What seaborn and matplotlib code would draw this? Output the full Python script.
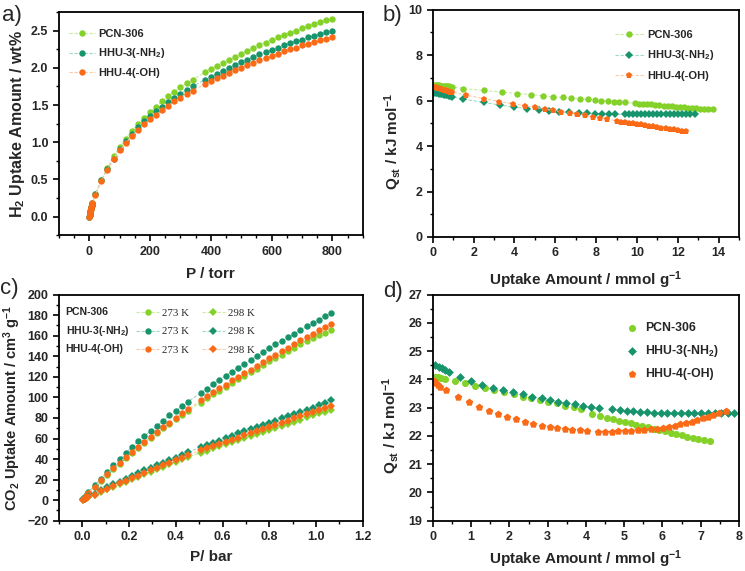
import matplotlib
matplotlib.use("Agg")
import matplotlib.pyplot as plt
import seaborn as sns
from matplotlib.ticker import MultipleLocator

# ---------------- a) H2 isotherms ----------------
h2_p = [0.3, 1, 2, 3, 4, 5, 6, 7, 8, 9, 10,
        20, 40, 60, 80, 100, 120, 140, 160, 180, 200, 220, 240, 260, 280, 300, 320, 340,
        380, 400, 420, 440, 460, 480, 500, 520, 540, 560, 580, 600, 620, 640, 660, 680,
        700, 720, 740, 760, 780, 800]
h2_pcn = [0.0, 0.02, 0.04, 0.06, 0.08, 0.10, 0.12, 0.13, 0.15, 0.16, 0.18,
          0.30, 0.49, 0.66, 0.81, 0.94, 1.05, 1.15, 1.25, 1.33, 1.41, 1.48, 1.55, 1.62, 1.68, 1.74, 1.79, 1.84,
          1.94, 1.98, 2.03, 2.07, 2.11, 2.15, 2.19, 2.23, 2.27, 2.31, 2.34, 2.38, 2.41, 2.44, 2.47, 2.50,
          2.53, 2.56, 2.59, 2.61, 2.64, 2.66]
h2_nh2 = [0.0, 0.02, 0.04, 0.06, 0.08, 0.10, 0.12, 0.13, 0.15, 0.16, 0.18,
          0.30, 0.49, 0.64, 0.78, 0.91, 1.02, 1.11, 1.20, 1.28, 1.35, 1.42, 1.48, 1.54, 1.60, 1.65, 1.70, 1.75,
          1.84, 1.88, 1.92, 1.96, 2.00, 2.04, 2.08, 2.11, 2.15, 2.18, 2.21, 2.24, 2.27, 2.30, 2.33, 2.36,
          2.38, 2.41, 2.43, 2.46, 2.48, 2.50]
h2_oh = [0.0, 0.02, 0.04, 0.06, 0.08, 0.10, 0.12, 0.13, 0.15, 0.16, 0.18,
         0.29, 0.48, 0.63, 0.77, 0.89, 0.99, 1.08, 1.16, 1.24, 1.31, 1.37, 1.43, 1.49, 1.55, 1.60, 1.65, 1.69,
         1.78, 1.82, 1.86, 1.89, 1.93, 1.97, 2.00, 2.04, 2.07, 2.10, 2.13, 2.16, 2.19, 2.22, 2.25, 2.27,
         2.30, 2.32, 2.35, 2.37, 2.39, 2.41]

# ---------------- b) H2 Qst ----------------
qh_pcn_x = [0.08, 0.15, 0.22, 0.30, 0.38, 0.46, 0.54, 0.62, 0.70, 0.78, 0.86, 0.93,
            1.5, 2.5, 3.4, 4.12, 4.8, 5.38, 5.88, 6.36, 6.78, 7.19, 7.58, 7.92, 8.25, 8.58, 8.87, 9.13, 9.43,
            9.9, 10.1, 10.3, 10.5, 10.7, 10.9, 11.1, 11.3, 11.5, 11.7, 11.9, 12.1, 12.3, 12.5, 12.7,
            12.9, 13.1, 13.3, 13.5, 13.7]
qh_pcn_y = [6.68, 6.68, 6.67, 6.67, 6.66, 6.66, 6.65, 6.65, 6.64, 6.63, 6.62, 6.62,
            6.53, 6.45, 6.37, 6.31, 6.26, 6.21, 6.17, 6.14, 6.11, 6.08, 6.05, 6.03, 6.00, 5.98, 5.96, 5.94, 5.92,
            5.89, 5.87, 5.86, 5.84, 5.83, 5.81, 5.80, 5.78, 5.77, 5.75, 5.74, 5.72, 5.71, 5.69, 5.68,
            5.66, 5.65, 5.63, 5.62, 5.61]
qh_nh2_x = [0.08, 0.15, 0.22, 0.30, 0.38, 0.46, 0.54, 0.62, 0.70, 0.78, 0.86, 0.93,
            1.5, 2.5, 3.3, 3.99, 4.61, 5.18, 5.67, 6.16, 6.65, 7.14, 7.55, 7.92, 8.28, 8.61, 8.94,
            9.4, 9.6, 9.8, 10.0, 10.2, 10.4, 10.6, 10.8, 11.0, 11.2, 11.4, 11.6, 11.8, 12.0, 12.2,
            12.4, 12.6, 12.85]
qh_nh2_y = [6.35, 6.34, 6.32, 6.31, 6.29, 6.28, 6.26, 6.24, 6.23, 6.21, 6.19, 6.18,
            6.07, 5.92, 5.80, 5.72, 5.65, 5.59, 5.55, 5.51, 5.48, 5.46, 5.45, 5.43, 5.42, 5.41, 5.40,
            5.40, 5.40, 5.40, 5.40, 5.40, 5.40, 5.40, 5.40, 5.40, 5.40, 5.40, 5.40, 5.41, 5.41, 5.41,
            5.41, 5.41, 5.42]
qh_oh_x = [0.08, 0.15, 0.22, 0.30, 0.38, 0.46, 0.54, 0.62, 0.70, 0.78, 0.86, 0.93,
           1.6, 2.53, 3.25, 3.95, 4.53, 5.02, 5.47, 5.88, 6.29, 6.7, 7.08, 7.47, 7.83, 8.17, 8.53,
           9.0, 9.2, 9.4, 9.6, 9.8, 10.0, 10.2, 10.4, 10.6, 10.8, 11.0, 11.2, 11.4, 11.6, 11.8,
           12.0, 12.2, 12.4]
qh_oh_y = [6.60, 6.58, 6.56, 6.54, 6.52, 6.50, 6.48, 6.46, 6.44, 6.42, 6.40, 6.38,
           6.25, 6.08, 5.96, 5.86, 5.77, 5.70, 5.63, 5.57, 5.51, 5.46, 5.40, 5.35, 5.29, 5.24, 5.19,
           5.11, 5.08, 5.05, 5.03, 5.00, 4.97, 4.95, 4.92, 4.89, 4.87, 4.84, 4.81, 4.79, 4.76, 4.73,
           4.71, 4.68, 4.66]

# ---------------- c) CO2 isotherms ----------------
co2_p = [0.005, 0.01, 0.015, 0.02, 0.025,
         0.053, 0.08, 0.106, 0.133, 0.16, 0.186, 0.213, 0.24, 0.266, 0.293, 0.32, 0.346, 0.373,
         0.40, 0.426, 0.453,
         0.506, 0.533, 0.56, 0.586, 0.613, 0.64, 0.666, 0.693, 0.72, 0.746, 0.773, 0.80, 0.826,
         0.853, 0.88, 0.906, 0.933, 0.96, 0.986, 1.013, 1.04, 1.066]
co2_pcn_273 = [1, 2.5, 4, 5.5, 7,
               12.5, 18.5, 24.5, 30, 35.5, 41, 46, 51, 56, 60.5, 65.5, 70, 74.5, 79, 83, 87,
               95, 99, 103, 106.5, 110.5, 114, 117.5, 121, 124.5, 128, 131.5, 135, 138, 141.5,
               145, 148, 151.5, 155, 158, 160.5, 163, 165.5]
co2_nh2_273 = [1.5, 3, 4.5, 6, 7.5,
               14.5, 21, 27.5, 34, 40, 46, 52, 57.5, 62.5, 67.5, 72.5, 77.5, 82.5, 87, 91.5, 96,
               104, 108.5, 113, 117, 121, 125, 129, 132.5, 136.5, 140.5, 144, 148, 151.5, 155,
               158.5, 162, 165.5, 169, 172, 175.5, 179, 182]
co2_oh_273 = [1, 2.5, 4, 5.5, 7,
              13, 19.5, 25.5, 31, 36.5, 42, 47, 52, 57, 61.5, 66.5, 71, 75.5, 80, 84.5, 88.5,
              97, 101, 105, 109, 112.5, 116.5, 120, 123.5, 127, 131, 134.5, 138, 141.5, 145,
              148.5, 152, 155.5, 158.5, 162, 165.5, 168.5, 171.5]
co2_pcn_298 = [0.5, 1.2, 1.8, 2.5, 3.1,
               5, 7.5, 10.5, 13, 15.5, 18, 20.5, 23, 25.5, 27.5, 30, 32.5, 35, 37.5, 40, 42,
               46, 48, 50.5, 52.5, 54.5, 56.5, 58.5, 60.5, 62.5, 64.5, 66.5, 68.5, 70.5, 72.5,
               74.5, 76.5, 78.5, 80.5, 82.5, 84.5, 86, 88]
co2_nh2_298 = [0.8, 1.5, 2.3, 3, 3.8,
               6.5, 9.5, 12.5, 15.5, 18, 21, 23.5, 26.5, 29, 31.5, 34, 36.5, 39, 41.5, 44, 47,
               51.5, 53.5, 56, 58, 60.5, 62.5, 65, 67, 69, 71.5, 73.5, 75.5, 77.5, 79.5,
               82, 84, 86, 88, 90, 92.5, 94.5, 97]
co2_oh_298 = [0.6, 1.3, 2, 2.7, 3.4,
              5.5, 8.5, 11, 14, 16.5, 19, 21.5, 24, 26.5, 29, 31.5, 34, 36.5, 39, 41.5, 44,
              48.5, 50.5, 52.5, 55, 57, 59, 61, 63, 65, 67, 69, 71, 73, 75,
              77, 79.5, 81.5, 83.5, 85.5, 87.5, 89.5, 91.5]

# ---------------- d) CO2 Qst ----------------
qc_pcn_x = [0.06, 0.14, 0.22, 0.32, 0.58, 0.84, 1.1, 1.37, 1.61, 1.87, 2.11, 2.36, 2.57, 2.81,
            3.02, 3.24, 3.46, 3.69, 3.88, 4.16, 4.36, 4.54, 4.70, 4.86, 5.02, 5.17, 5.32, 5.47,
            5.63, 5.78, 5.92, 6.06, 6.21, 6.35, 6.5, 6.65, 6.8, 6.94, 7.08, 7.23]
qc_pcn_y = [24.1, 24.07, 24.04, 24.0, 23.94, 23.88, 23.78, 23.7, 23.62, 23.54, 23.47, 23.39, 23.33,
            23.27, 23.21, 23.15, 23.07, 23.01, 22.94, 22.78, 22.72, 22.65, 22.59, 22.54, 22.49,
            22.45, 22.4, 22.35, 22.31, 22.26, 22.21, 22.16, 22.12, 22.07, 22.02, 21.98, 21.93,
            21.89, 21.85, 21.81]
qc_nh2_x = [0.06, 0.15, 0.24, 0.32, 0.41, 0.70, 1.0, 1.28, 1.57, 1.83, 2.09, 2.36, 2.6, 2.84, 3.05,
            3.27, 3.49, 3.71, 3.92, 4.14, 4.34, 4.69, 4.89, 5.07, 5.24, 5.41, 5.59, 5.78, 5.96,
            6.13, 6.31, 6.48, 6.66, 6.83, 7.01, 7.18, 7.36, 7.53, 7.71, 7.88]
qc_nh2_y = [24.5, 24.45, 24.4, 24.34, 24.28, 24.1, 23.95, 23.82, 23.7, 23.62, 23.54, 23.47, 23.39,
            23.33, 23.27, 23.21, 23.15, 23.12, 23.07, 23.04, 23.0, 22.94, 22.92, 22.9, 22.87,
            22.85, 22.84, 22.82, 22.81, 22.81, 22.8, 22.8, 22.8, 22.8, 22.8, 22.81, 22.81,
            22.82, 22.82, 22.82]
qc_oh_x = [0.02, 0.08, 0.13, 0.19, 0.34, 0.65, 0.94, 1.2, 1.46, 1.7, 1.94, 2.17, 2.4, 2.62, 2.84,
           3.05, 3.25, 3.45, 3.64, 3.84, 4.03, 4.32, 4.49, 4.67, 4.84, 5.02, 5.19, 5.37, 5.52,
           5.7, 5.86, 6.01, 6.17, 6.32, 6.47, 6.62, 6.76, 6.9, 7.05, 7.2, 7.33, 7.47, 7.65]
qc_oh_y = [23.94, 23.87, 23.8, 23.74, 23.62, 23.39, 23.2, 23.04, 22.9, 22.78, 22.68, 22.59, 22.51,
           22.44, 22.36, 22.32, 22.28, 22.25, 22.21, 22.2, 22.19, 22.15, 22.15, 22.15, 22.16,
           22.18, 22.19, 22.2, 22.21, 22.24, 22.26, 22.28, 22.32, 22.36, 22.41, 22.46, 22.51,
           22.56, 22.62, 22.68, 22.75, 22.81, 22.87]

names = ["PCN-306", "HHU-3(-NH$_2$)", "HHU-4(-OH)"]
mark_col = ["#84d12a", "#18946c", "#fb6b17"]
line_col = ["#c9eca2", "#9fd9c6", "#fbcaa6"]

sns.set_style("ticks")
plt.rcParams["font.family"] = ["Liberation Sans", "DejaVu Sans"]
plt.rcParams["font.weight"] = "bold"
plt.rcParams["mathtext.fontset"] = "custom"
plt.rcParams["mathtext.bf"] = "Liberation Sans:bold"
plt.rcParams["mathtext.rm"] = "Liberation Sans:bold"
plt.rcParams["mathtext.default"] = "bf"
plt.rcParams["axes.linewidth"] = 1.3
plt.rcParams["axes.edgecolor"] = "black"


def series(ax, x, y, i, marker, label, ms=4.6):
    sns.lineplot(x=x, y=y, ax=ax, color=line_col[i], linewidth=0.8, linestyle=(0, (3, 1.5)),
                 marker=marker, markersize=ms, markerfacecolor=mark_col[i],
                 markeredgecolor=mark_col[i], markeredgewidth=0,
                 estimator=None, sort=False, label=label)


def style(ax, xmaj, xmin, ymaj, ymin):
    ax.xaxis.set_major_locator(MultipleLocator(xmaj))
    ax.xaxis.set_minor_locator(MultipleLocator(xmin))
    ax.yaxis.set_major_locator(MultipleLocator(ymaj))
    ax.yaxis.set_minor_locator(MultipleLocator(ymin))
    ax.tick_params(which="major", length=4, width=1.2, labelsize=9, color="black")
    ax.tick_params(which="minor", length=2.2, width=1.0, color="black")
    for lab in ax.get_xticklabels() + ax.get_yticklabels():
        lab.set_fontweight("bold")


fig = plt.figure(figsize=(7.45, 5.71), dpi=100)
ax_a = fig.add_axes([0.079, 0.588, 0.408, 0.391])
ax_b = fig.add_axes([0.581, 0.585, 0.411, 0.398])
ax_c = fig.add_axes([0.079, 0.088, 0.408, 0.396])
ax_d = fig.add_axes([0.581, 0.088, 0.411, 0.396])

# a)
for i, ys in enumerate([h2_pcn, h2_nh2, h2_oh]):
    series(ax_a, h2_p, ys, i, "o", names[i])
ax_a.set_xlim(-100, 900)
ax_a.set_ylim(-0.25, 2.75)
style(ax_a, 200, 50, 0.5, 0.25)
ax_a.set_xlabel("P / torr", fontsize=11, fontweight="bold", labelpad=7)
ax_a.set_ylabel("H$_2$ Uptake Amount / wt%", fontsize=11.5, fontweight="bold", labelpad=3)
ax_a.legend(loc="upper left", bbox_to_anchor=(0.02, 0.945), frameon=False,
            prop={"size": 8, "weight": "bold"}, handlelength=2.3, handletextpad=0.3,
            labelspacing=0.7, borderaxespad=0)

# b)
for i, (xs, ys, mk) in enumerate([(qh_pcn_x, qh_pcn_y, "o"), (qh_nh2_x, qh_nh2_y, "D"),
                                  (qh_oh_x, qh_oh_y, "p")]):
    series(ax_b, xs, ys, i, mk, names[i], ms=4.6 if mk != "D" else 3.8)
ax_b.set_xlim(0, 15)
ax_b.set_ylim(0, 10)
style(ax_b, 2, 1, 2, 1)
ax_b.set_xlabel("Uptake Amount / mmol g$^{-1}$", fontsize=11, fontweight="bold", labelpad=7)
ax_b.set_ylabel("Q$_{st}$ / kJ mol$^{-1}$", fontsize=11, fontweight="bold")
ax_b.yaxis.set_label_coords(-0.095, 0.42)
ax_b.legend(loc="upper left", bbox_to_anchor=(0.58, 0.93), frameon=False,
            prop={"size": 8, "weight": "bold"}, handlelength=2.6, handletextpad=0.3,
            labelspacing=0.75, borderaxespad=0)

# c)
for i, ys in enumerate([co2_pcn_273, co2_nh2_273, co2_oh_273]):
    series(ax_c, co2_p, ys, i, "o", "273 K")
for i, ys in enumerate([co2_pcn_298, co2_nh2_298, co2_oh_298]):
    series(ax_c, co2_p, ys, i, "D", "298 K", ms=3.9)
ax_c.set_xlim(-0.1, 1.2)
ax_c.set_ylim(-20, 200)
style(ax_c, 0.2, 0.1, 20, 10)
ax_c.set_xlabel("P/ bar", fontsize=11, fontweight="bold", labelpad=5)
ax_c.set_ylabel("CO$_2$ Uptake Amount / cm$^3$ g$^{-1}$", fontsize=10.5, fontweight="bold", labelpad=3)
ax_c.legend(loc="upper left", bbox_to_anchor=(0.24, 0.96), frameon=False, ncol=2,
            prop={"family": "Liberation Serif", "size": 7.8, "weight": "normal"},
            handlelength=2.1, handletextpad=0.3, labelspacing=0.85, columnspacing=1.2,
            borderaxespad=0)
for k, yy in enumerate([0.921, 0.837, 0.758]):
    ax_c.text(0.022, yy, names[k], transform=ax_c.transAxes, fontsize=7.6,
              fontweight="bold", va="center", ha="left")

# d)
for i, (xs, ys, mk, sz) in enumerate([(qc_pcn_x, qc_pcn_y, "o", 26), (qc_nh2_x, qc_nh2_y, "D", 20),
                                      (qc_oh_x, qc_oh_y, "p", 32)]):
    sns.scatterplot(x=xs, y=ys, ax=ax_d, marker=mk, s=sz, color=mark_col[i],
                    linewidth=0, label=names[i])
ax_d.set_xlim(0, 8)
ax_d.set_ylim(19, 27)
style(ax_d, 1, 0.5, 1, 0.5)
ax_d.set_xlabel("Uptake Amount / mmol g$^{-1}$", fontsize=11, fontweight="bold", labelpad=4)
ax_d.set_ylabel("Q$_{st}$ / kJ mol$^{-1}$", fontsize=11, fontweight="bold")
ax_d.yaxis.set_label_coords(-0.1, 0.42)
ax_d.legend(loc="upper left", bbox_to_anchor=(0.61, 0.9), frameon=False,
            prop={"size": 8.8, "weight": "bold"}, handlelength=1.2, handletextpad=0.5,
            labelspacing=0.75, borderaxespad=0)

# panel letters
for lab, (fx, fy) in zip(["a)", "b)", "c)", "d)"],
                         [(0.003, 0.973), (0.514, 0.973), (0.0, 0.494), (0.514, 0.49)]):
    fig.text(fx, fy, lab, fontsize=16, fontweight="normal", va="center", ha="left")

fig.savefig("out.png", dpi=100)
